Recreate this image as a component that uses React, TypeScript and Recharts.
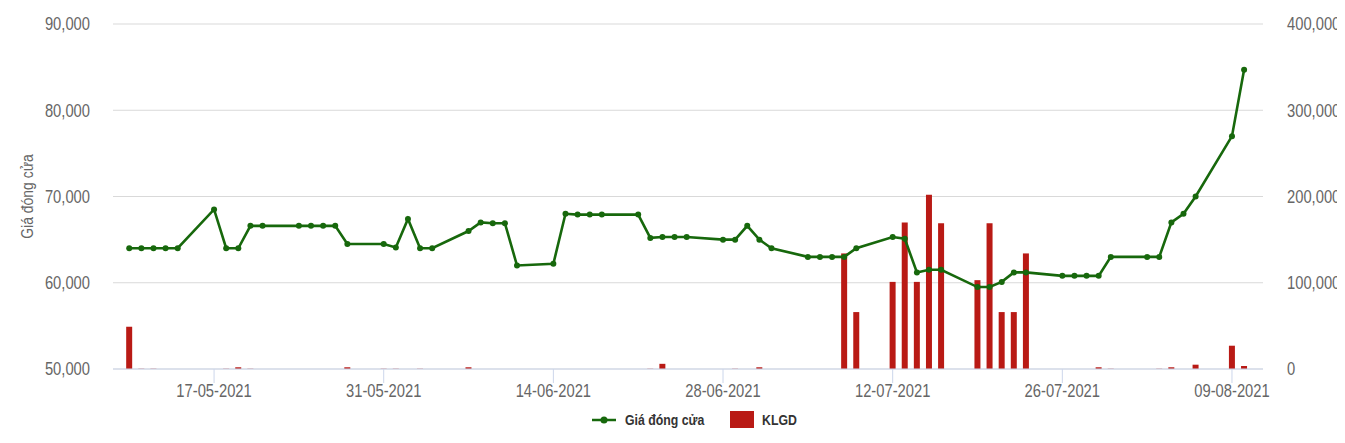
import React from "react";
import {
  Bar,
  CartesianGrid,
  ComposedChart,
  Legend,
  Line,
  XAxis,
  YAxis,
} from "recharts";

const dates = [
  "10-05-2021", "11-05-2021", "12-05-2021", "13-05-2021", "14-05-2021",
  "17-05-2021", "18-05-2021", "19-05-2021", "20-05-2021", "21-05-2021",
  "24-05-2021", "25-05-2021", "26-05-2021", "27-05-2021", "28-05-2021",
  "31-05-2021", "01-06-2021", "02-06-2021", "03-06-2021", "04-06-2021",
  "07-06-2021", "08-06-2021", "09-06-2021", "10-06-2021", "11-06-2021",
  "14-06-2021", "15-06-2021", "16-06-2021", "17-06-2021", "18-06-2021",
  "21-06-2021", "22-06-2021", "23-06-2021", "24-06-2021", "25-06-2021",
  "28-06-2021", "29-06-2021", "30-06-2021", "01-07-2021", "02-07-2021",
  "05-07-2021", "06-07-2021", "07-07-2021", "08-07-2021", "09-07-2021",
  "12-07-2021", "13-07-2021", "14-07-2021", "15-07-2021", "16-07-2021",
  "19-07-2021", "20-07-2021", "21-07-2021", "22-07-2021", "23-07-2021",
  "26-07-2021", "27-07-2021", "28-07-2021", "29-07-2021", "30-07-2021",
  "02-08-2021", "03-08-2021", "04-08-2021", "05-08-2021", "06-08-2021",
  "09-08-2021", "10-08-2021",
];

const closePrice = [
  64000, 64000, 64000, 64000, 64000,
  68500, 64000, 64000, 66600, 66600,
  66600, 66600, 66600, 66600, 64500,
  64500, 64100, 67400, 64000, 64000,
  66000, 67000, 66900, 66900, 62000,
  62200, 68000, 67900, 67900, 67900,
  67900, 65200, 65300, 65300, 65300,
  65000, 65000, 66600, 65000, 64000,
  63000, 63000, 63000, 63000, 64000,
  65300, 65100, 61200, 61500, 61500,
  59500, 59500, 60100, 61200, 61200,
  60800, 60800, 60800, 60800, 63000,
  63000, 63000, 67000, 68000, 70000,
  77000, 84700,
];

const volume = [
  49000, 300, 300, 0, 0,
  0, 300, 2000, 300, 0,
  0, 0, 0, 0, 2000,
  300, 300, 0, 300, 0,
  2000, 0, 0, 0, 0,
  0, 0, 0, 0, 0,
  0, 300, 6000, 0, 0,
  0, 300, 0, 2000, 0,
  0, 0, 0, 134000, 66000,
  101000, 170000, 101000, 202000, 169000,
  103000, 169000, 66000, 66000, 134000,
  0, 0, 0, 2000, 300,
  0, 300, 2000, 0, 5000,
  27000, 3500,
];

const xTickLabels = [
  "17-05-2021", "31-05-2021", "14-06-2021", "28-06-2021",
  "12-07-2021", "26-07-2021", "09-08-2021",
];

const priceTicks = [50000, 60000, 70000, 80000, 90000];
const volumeTicks = [0, 100000, 200000, 300000, 400000];

const GREEN = "#17680c";
const RED = "#b91a15";
const FONT = '"Liberation Sans", Arial, sans-serif';
const NARROW = 0.82; // fake a condensed face by squeezing Liberation Sans

const BASE = Date.UTC(2021, 4, 10);
function dayOf(s: string) {
  const [d, m, y] = s.split("-").map(Number);
  return (Date.UTC(y, m - 1, d) - BASE) / 86400000;
}

const data = dates.map((d, i) => ({
  day: dayOf(d),
  price: closePrice[i],
  volume: volume[i],
}));

const xTicks = xTickLabels.map(dayOf);
const fmtTick = (v: number) => xTickLabels[xTicks.indexOf(v)] ?? "";
const fmtNum = (v: number) => v.toLocaleString("en-US");

function NarrowTick(props: any) {
  const { x, y, payload, textAnchor, fmt, dy } = props;
  return (
    <g transform={`translate(${x},${y}) scale(${NARROW},1)`}>
      <text
        x={0}
        y={0}
        dy={dy}
        textAnchor={textAnchor}
        fill="#666"
        fontSize={18}
        fontFamily={FONT}
      >
        {fmt(payload.value)}
      </text>
    </g>
  );
}

function LegendBox() {
  const txt: React.CSSProperties = {
    position: "absolute",
    top: 8,
    fontSize: 15,
    fontWeight: 600,
    color: "#333",
    fontFamily: FONT,
    whiteSpace: "nowrap",
    transform: `scaleX(${NARROW})`,
    transformOrigin: "left center",
    lineHeight: "18px",
  };
  return (
    <div style={{ position: "relative", width: 1337, height: 30 }}>
      <svg style={{ position: "absolute", left: 584, top: 10 }} width={26} height={14}>
        <line x1={0} y1={7} x2={24} y2={7} stroke={GREEN} strokeWidth={2.5} />
        <circle cx={12} cy={7} r={3.5} fill={GREEN} />
      </svg>
      <span style={{ ...txt, left: 617 }}>Giá đóng cửa</span>
      <div style={{ position: "absolute", left: 722, top: 8, width: 24, height: 17, background: RED }} />
      <span style={{ ...txt, left: 754 }}>KLGD</span>
    </div>
  );
}

export default function App() {
  return (
    <ComposedChart
      width={1337}
      height={430}
      data={data}
      margin={{ top: 16, right: 0, bottom: 5, left: 0 }}
    >
      <CartesianGrid yAxisId="left" vertical={false} stroke="#d9d9d9" />
      <XAxis
        dataKey="day"
        type="number"
        domain={[-1.34, 93.56]}
        ticks={xTicks}
        height={34}
        tickSize={14}
        tickMargin={1}
        stroke="#ccd6eb"
        tick={<NarrowTick fmt={fmtTick} dy="0.71em" />}
        interval={0}
      />
      <YAxis
        yAxisId="left"
        domain={[50000, 90000]}
        ticks={priceTicks}
        width={105}
        axisLine={false}
        tickLine={false}
        tickSize={0}
        tickMargin={23}
        tick={<NarrowTick fmt={fmtNum} dy="0.355em" />}
        label={{
          value: "Giá đóng cửa",
          content: (p: any) => {
            const vb = p.viewBox;
            const cx = vb.x + 19;
            const cy = vb.y + vb.height / 2;
            return (
              <g transform={`translate(${cx},${cy}) rotate(-90) scale(${NARROW},1)`}>
                <text
                  x={0}
                  y={0}
                  dy="0.355em"
                  textAnchor="middle"
                  fill="#666"
                  fontSize={17}
                  fontFamily={FONT}
                >
                  Giá đóng cửa
                </text>
              </g>
            );
          },
        }}
      />
      <YAxis
        yAxisId="right"
        orientation="right"
        domain={[0, 400000]}
        ticks={volumeTicks}
        width={82}
        axisLine={false}
        tickLine={false}
        tickSize={0}
        tickMargin={24}
        tick={<NarrowTick fmt={fmtNum} dy="0.355em" />}
      />
      <Legend verticalAlign="bottom" wrapperStyle={{ left: 0, width: 1337 }} content={() => <LegendBox />} />
      <Bar yAxisId="right" dataKey="volume" fill={RED} barSize={6} isAnimationActive={false} />
      <Line
        yAxisId="left"
        dataKey="price"
        type="linear"
        stroke={GREEN}
        strokeWidth={2.6}
        dot={{ r: 3, fill: GREEN, stroke: GREEN, strokeWidth: 0 }}
        activeDot={false}
        isAnimationActive={false}
      />
    </ComposedChart>
  );
}
